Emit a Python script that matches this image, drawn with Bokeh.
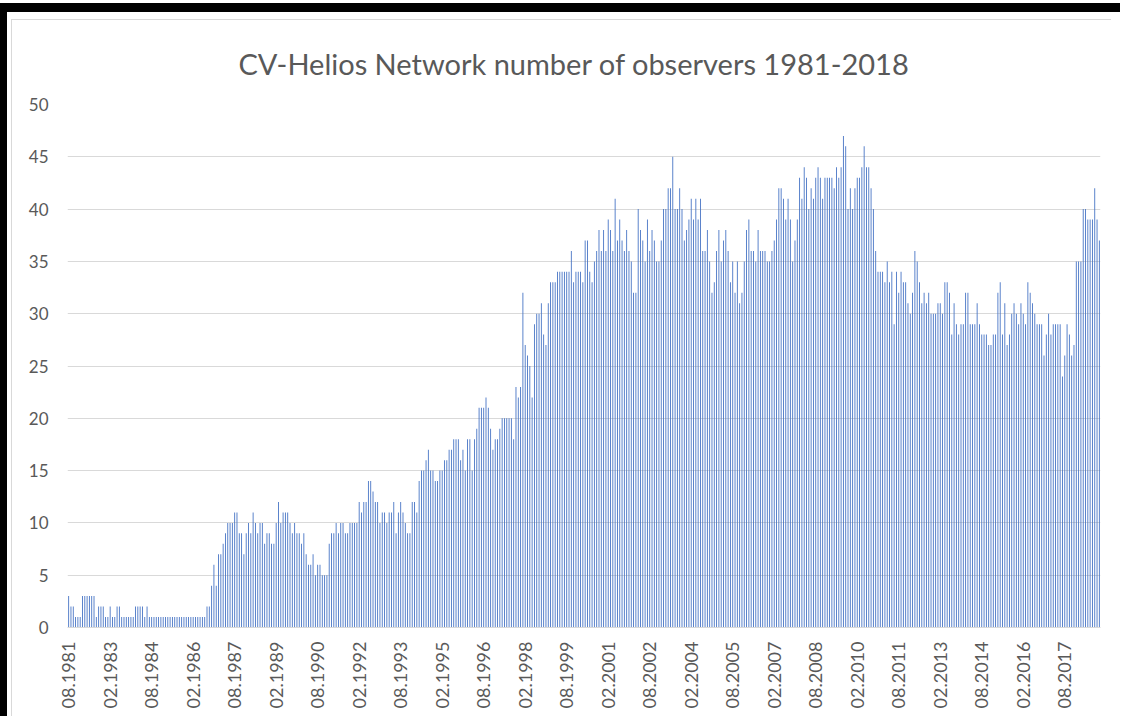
import math
from bokeh.plotting import figure
from bokeh.models import Range1d, FixedTicker, ColumnDataSource
from bokeh.embed import file_html
from bokeh.resources import INLINE

# Monthly number of observers, starting 08.1981
obs_1981_1986 = [3, 2, 2, 1, 1, 1, 3, 3, 3, 3, 3, 3,
                 1, 2, 2, 2, 1, 1, 2, 1, 1, 2, 2, 1,
                 1, 1, 1, 1, 1, 2, 2, 2, 2, 1, 2, 1,
                 1, 1, 1, 1, 1, 1, 1, 1, 1, 1, 1, 1,
                 1, 1, 1, 1, 1, 1, 1, 1, 1, 1, 1, 1]
obs_1986_1988 = [2, 2, 4, 6, 4, 7, 7, 8, 9, 10, 10, 10, 11, 11, 9, 9, 7, 9, 10, 9]
obs_1988_1995 = [11, 10,
                 9, 10, 10, 8, 9, 9, 8, 8, 10, 12,
                 10, 11, 11, 11, 10, 9, 10, 9, 9, 8,
                 9, 7, 6, 6, 7, 5, 6, 6, 5, 5,
                 5, 8, 9, 9, 10, 9, 10, 10, 9, 9,
                 10, 10, 10, 10, 12, 11, 12, 12, 14, 14,
                 13, 12, 12, 10, 11, 11, 10, 11, 11, 12,
                 9, 11, 12, 11, 10, 9, 9, 12, 12, 11,
                 14, 15, 15, 16, 17, 15, 15, 14, 14, 15,
                 15, 16, 16, 17]
obs_1995_1999 = [17, 18, 18, 18, 16, 17, 15, 18, 18, 15,
                 18, 19, 21, 21, 21, 22, 21, 19, 17, 18,
                 18, 19, 20, 20, 20, 20, 20, 18, 23, 22,
                 23, 32, 27, 26, 25, 22, 29, 30, 30, 31,
                 28, 27, 31, 33, 33, 33, 34, 34]
obs_1999_2003 = [34, 34, 34, 34, 36, 33, 34, 34, 34, 33,
                 37, 37, 34, 33, 35, 36, 38, 36, 38, 36,
                 39, 38, 36, 41, 37, 39, 37, 36, 38, 36,
                 35, 32, 32, 40, 38, 37, 35, 39, 36, 38,
                 37, 35, 35, 37, 40, 40, 42, 42, 45, 40]
obs_2003_2007 = [40, 42, 40, 37, 38, 39, 41, 39, 41, 39,
                 41, 36, 36, 38, 35, 32, 33, 36, 38, 35,
                 37, 38, 36, 33, 35, 32, 35, 31, 32, 35,
                 38, 39, 36, 36, 35, 38, 36, 36, 36, 35,
                 35, 36, 37, 39, 42, 42, 41, 39, 41, 39]
obs_2007_2011 = [35, 37, 39, 43, 41, 44, 43, 40, 42, 41,
                 43, 44, 43, 41, 43, 43, 43, 43, 42, 44,
                 43, 44, 47, 46, 40, 42, 40, 42, 43, 43,
                 44, 46, 44, 44, 42, 40, 36, 34, 34, 34,
                 33, 35, 33, 34, 29, 34, 32, 34, 33, 33]
obs_2011_2015 = [31, 30, 32, 36, 35, 33, 31, 32, 31, 32,
                 30, 30, 30, 31, 31, 30, 33, 33, 32, 28,
                 31, 29, 28, 29, 29, 32, 32, 29, 29, 29,
                 31, 29, 28, 28, 28, 27, 27, 28, 28, 32,
                 33]
obs_2015_2018 = [28, 31, 27, 28,
                 30, 31, 30, 29, 31, 30, 29, 33, 32, 31,
                 30, 29, 29, 29, 26, 28, 30, 28, 29, 29,
                 29, 29, 24, 26, 29, 28, 26, 27, 35, 35,
                 35, 40, 40, 39, 39, 39, 42, 39, 37]

tick_labels = ["08.1981", "02.1983", "08.1984", "02.1986", "08.1987", "02.1989",
               "08.1990", "02.1992", "08.1993", "02.1995", "08.1996", "02.1998",
               "08.1999", "02.2001", "08.2002", "02.2004", "08.2005", "02.2007",
               "08.2008", "02.2010", "08.2011", "02.2013", "08.2014", "02.2016",
               "08.2017"]
y_ticks = [0, 5, 10, 15, 20, 25, 30, 35, 40, 45, 50]

values = (obs_1981_1986 + obs_1986_1988 + obs_1988_1995 + obs_1995_1999 +
          obs_1999_2003 + obs_2003_2007 + obs_2007_2011 + obs_2011_2015 +
          obs_2015_2018)
n = len(values)
months = []
m, y = 8, 1981
for _ in range(n):
    months.append("%02d.%d" % (m, y))
    m += 1
    if m > 12:
        m, y = 1, y + 1
idx = list(range(n))
tick_pos = [months.index(t) for t in tick_labels]

src = ColumnDataSource(dict(x=idx, top=values, month=months))

FONT = "Lato"
GREY = "#595959"

p = figure(width=1100, height=697,
           x_range=Range1d(-0.5, n - 0.5), y_range=Range1d(0, 50),
           output_backend="svg", toolbar_location=None,
           min_border_left=55, min_border_right=12,
           min_border_top=82, min_border_bottom=90)
p.margin = (19, 0, 0, 11)
p.styles = {
    "border-top": "1px solid #D9D9D9",
    "border-left": "1px solid #D9D9D9",
    "box-shadow": "-4px -7px 0 0 white, -4px 0 0 0 white, 9px -7px 0 0 white, "
                  "-11px -16px 0 0 black, -11px 0 0 0 black, 9px -16px 0 0 black",
}

p.title.text = "CV-Helios Network number of observers 1981-2018"
p.title.align = "left"
p.title.offset = 171
p.title.standoff = 47
p.title.text_font = FONT
p.title.text_font_size = "29px"
p.title.text_font_style = "normal"
p.title.text_color = GREY

p.vbar(x="x", top="top", width=0.38, bottom=0, source=src,
       fill_color="#4472C4", line_color=None)

p.outline_line_color = None
p.background_fill_color = "white"
p.border_fill_color = "white"

p.xgrid.visible = False
p.ygrid.grid_line_color = "#D9D9D9"
p.ygrid.grid_line_width = 1
p.ygrid.ticker = FixedTicker(ticks=y_ticks)

p.yaxis.ticker = FixedTicker(ticks=y_ticks)
p.yaxis.axis_line_color = None
p.yaxis.major_tick_line_color = None
p.yaxis.minor_tick_line_color = None
p.yaxis.major_tick_out = 0
p.yaxis.major_tick_in = 0
p.yaxis.major_label_standoff = 19
p.yaxis.major_label_text_font = FONT
p.yaxis.major_label_text_font_size = "17px"
p.yaxis.major_label_text_color = GREY

p.xaxis.ticker = FixedTicker(ticks=tick_pos)
p.xaxis.major_label_overrides = {pos: lab for pos, lab in zip(tick_pos, tick_labels)}
p.xaxis.major_label_orientation = math.pi / 2
p.xaxis.axis_line_color = "#D9D9D9"
p.xaxis.axis_line_width = 1
p.xaxis.major_tick_line_color = None
p.xaxis.minor_tick_line_color = None
p.xaxis.major_tick_out = 0
p.xaxis.major_tick_in = 0
p.xaxis.major_label_standoff = 14
p.xaxis.major_label_text_font = FONT
p.xaxis.major_label_text_font_size = "18px"
p.xaxis.major_label_text_color = GREY

open("out.html", "w").write(file_html(p, INLINE))
